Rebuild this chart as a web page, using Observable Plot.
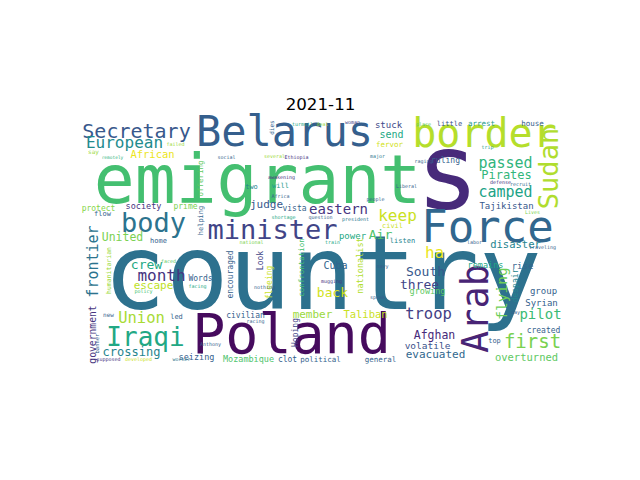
<!DOCTYPE html>
<html>
<head>
<meta charset="utf-8">
<script src="https://cdn.jsdelivr.net/npm/d3@7"></script>
<script src="https://cdn.jsdelivr.net/npm/@observablehq/plot@0.6"></script>
<style>
  html, body { margin: 0; padding: 0; background: #ffffff; }
  #chart { width: 640px; height: 480px; }
</style>
</head>
<body>
<div id="chart"></div>
<script>
// Word-cloud layout for 2021-11: word, cloud position (units of the 480x240 cloud canvas), weight (font size), orientation, tone (0..1 viridis)
const title = "2021-11";
const words = ["s","country","emigrant","Belarus","border","Poland","Force","minister","body","Arab",
  "Sudan","Iraqi","Secretary","European","first","passed","camped","keep","Tajikistan","Pirates",
  "troop","Afghan","volatile","evacuated","overturned","created","pilot","Syrian","group","flying",
  "despair","top","ha","South","three","growing","remains","rise","disaster","listen",
  "Air","civil","power","eastern","judge","vista","two","will","Cuba","back",
  "confrontation","nationalist","fleeing","Look","encouraged","Words","month","escape","crew","humanitarian",
  "frontier","United","home","protect","flow","society","prime","offering","helping","Union",
  "government","crossing","seizing","Mozambique","clot","political","general","member","Taliban","Hoping",
  "civilian","new","led","banner","stuck","send","fervor","little","arrest","house",
  "ruling","African","say","dies","turmoil","deal","woman","place","Ethiopia","several",
  "social","remotely","failed","major","raging","trip","defense","recruit","Liberal","Lives",
  "awakening","Africa","shortage","question","president","people","national","train","mugging","nothing",
  "navy","speak","traveling","labor","policy","facing","faced","racing","Anthony","supposed",
  "developed","worker","day"];
const posX = [367,242,177,204,404,211,407,192,73,407,
  477,65,56,44,452,425,425,317,426,426,
  348,354,347,355,446,463,460,461,463,426,
  437,414,354,345,339,347,405,442,435,322,
  300,312,272,258,186,214,171,200,255,252,
  223,282,191,182,152,120,81,73,66,30,
  17,42,78,18,22,63,105,122,122,61,
  15,51,116,168,207,240,300,232,285,217,
  165,28,96,18,308,311,309,369,401,452,
  365,72,13,193,222,242,272,343,216,194,
  146,32,95,297,343,407,420,440,326,452,
  201,200,203,240,275,295,171,252,251,184,
  302,297,462,394,63,117,88,175,130,28,
  58,101,435];
const posY = [88,188,82,25,26,232,121,118,111,188,
  48,225,17,27,227,47,76,100,88,58,
  198,218,228,237,240,212,198,185,173,173,
  165,222,137,155,168,173,147,148,127,122,
  118,107,118,93,87,90,68,67,148,176,
  147,145,162,140,154,160,160,168,148,150,
  141,120,122,90,95,88,88,58,100,202,
  214,235,239,241,241,241,241,197,197,212,
  197,196,198,223,7,17,26,5,5,5,
  42,37,33,7,5,5,3,5,38,37,
  38,38,25,37,42,28,63,65,67,93,
  58,77,98,98,100,80,123,123,162,168,
  147,178,128,123,172,167,142,202,225,240,
  240,240,193];
const weight = [105,104,68,42,40,55,44,27,27,37,
  27,26,20,16,19,15,15,16,9,12,
  15.5,11.5,9.5,11,10.5,8,14,9,9,14.5,
  8,7,16,13,13,8.5,8.5,9,10.5,7,
  13,7,9,14,11,8,7,7,10,13,
  7.5,8.5,8,8,8,8,16,11,13,6.5,
  15,11.5,7,8,7,8.5,8,7.5,7,15.5,
  9.7,12,8.5,8.5,8,7.5,7.5,11,10.5,8,
  8,6,7,5.5,9,10,7.5,7,7.5,7.5,
  8,10.5,6,6,5,5,5,5,5,5,
  5,4.5,5,5,5,5,5,5,5,5,
  5,5,5,5,5,5,5,5,5,5,
  5,5,5,5,5,5,5,5,5,5,
  5,5,5];
const turn = [0,0,0,0,0,0,0,0,0,1,
  1,0,0,0,0,0,0,0,0,0,
  0,0,0,0,0,0,0,0,0,1,
  1,0,0,0,0,0,0,0,0,0,
  0,0,0,0,0,0,0,0,0,0,
  1,1,1,1,1,0,0,0,0,1,
  1,0,0,0,0,0,0,1,1,0,
  1,0,0,0,0,0,0,0,0,1,
  0,0,0,1,0,0,0,0,0,0,
  0,0,0,1,0,0,0,0,0,0,
  0,0,0,0,0,0,0,0,0,0,
  0,0,0,0,0,0,0,0,0,0,
  0,0,0,0,0,0,0,0,0,0,
  0,0,0];
const tone = [0.12,0.37,0.70,0.30,0.89,0.03,0.33,0.20,0.38,0.10,
  0.88,0.60,0.27,0.48,0.80,0.65,0.58,0.92,0.27,0.66,
  0.18,0.12,0.25,0.33,0.75,0.30,0.68,0.30,0.30,0.78,
  0.45,0.30,0.97,0.27,0.20,0.75,0.60,0.32,0.45,0.45,
  0.72,0.92,0.60,0.15,0.27,0.30,0.45,0.55,0.32,0.93,
  0.70,0.88,0.92,0.20,0.30,0.30,0.15,0.90,0.60,0.85,
  0.38,0.80,0.30,0.82,0.30,0.15,0.80,0.75,0.30,0.87,
  0.15,0.45,0.30,0.72,0.30,0.30,0.30,0.85,0.92,0.20,
  0.30,0.30,0.30,0.30,0.22,0.60,0.93,0.25,0.55,0.30,
  0.30,0.97,0.85,0.30,0.60,0.85,0.20,0.75,0.15,0.85,
  0.30,0.65,0.85,0.40,0.30,0.55,0.15,0.35,0.30,0.80,
  0.15,0.30,0.60,0.30,0.40,0.30,0.80,0.60,0.15,0.30,
  0.30,0.30,0.30,0.30,0.70,0.60,0.75,0.30,0.30,0.15,
  0.92,0.40,0.30];

const cloud = words.map((w, i) => ({
  word: w, x: posX[i], y: posY[i], size: weight[i], rot: turn[i] ? -90 : 0, tone: tone[i]
}));

const chart = Plot.plot({
  width: 640,
  height: 480,
  marginLeft: 80,
  marginRight: 80,
  marginTop: 120,
  marginBottom: 120,
  x: {domain: [0, 480], axis: null},
  y: {domain: [0, 240], reverse: true, axis: null},
  color: {type: "linear", scheme: "viridis", domain: [0, 1]},
  style: {background: "#ffffff"},
  marks: [
    Plot.text(cloud, {
      x: "x", y: "y", text: "word",
      fontSize: d => d.size,
      rotate: d => d.rot,
      fill: "tone",
      textAnchor: "middle",
      lineAnchor: "bottom",
      fontFamily: "DejaVu Sans Mono"
    }),
    Plot.text([title], {
      frameAnchor: "top", dy: -11, lineAnchor: "bottom",
      fontSize: 16.7, fontFamily: "DejaVu Sans", fill: "#000000"
    })
  ]
});
document.getElementById("chart").appendChild(chart);
</script>
</body>
</html>
